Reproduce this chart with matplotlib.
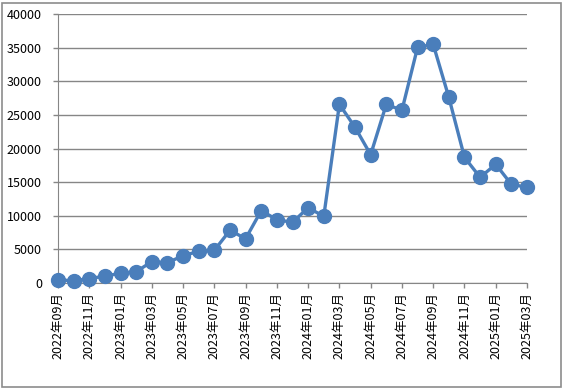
import matplotlib.pyplot as plt
from matplotlib.patches import Rectangle

plt.rcParams['font.family'] = ['Noto Sans CJK SC', 'DejaVu Sans']

months = ['2022年09月', '2022年10月', '2022年11月', '2022年12月', '2023年01月', '2023年02月',
          '2023年03月', '2023年04月', '2023年05月', '2023年06月', '2023年07月', '2023年08月',
          '2023年09月', '2023年10月', '2023年11月', '2023年12月', '2024年01月', '2024年02月',
          '2024年03月', '2024年04月', '2024年05月', '2024年06月', '2024年07月', '2024年08月',
          '2024年09月', '2024年10月', '2024年11月', '2024年12月', '2025年01月', '2025年02月',
          '2025年03月']
values = [450, 350, 640, 1040, 1440, 1690, 3170, 3020, 4060, 4710, 4860, 7830,
          6590, 10760, 9420, 9020, 11200, 9910, 26570, 23150, 19080, 26570, 25680, 35040,
          35490, 27610, 18690, 15710, 17650, 14670, 14230]
yticks = [0, 5000, 10000, 15000, 20000, 25000, 30000, 35000, 40000]

fig = plt.figure(figsize=(5.66, 3.91), dpi=100)
# chart frame like a spreadsheet chart object
fig.patches.append(Rectangle((2/566, 4/391), 559/566, 384/391, transform=fig.transFigure,
                             fill=False, edgecolor='#8c8c8c', lw=1.2))
ax = fig.add_axes([58/566, 108/391, 469/566, 269/391])

x = list(range(len(months)))
ax.plot(x, values, color='#4a7ebb', lw=2.4, marker='o', ms=10, zorder=3, clip_on=False)

ax.set_xlim(0, len(months) - 1)
ax.set_ylim(0, 40000)
ax.set_yticks(yticks)
ax.set_yticklabels([str(v) for v in yticks], fontsize=9)
ax.set_xticks(x[::2])
ax.set_xticklabels(months[::2], rotation=90, fontsize=9)
ax.grid(axis='y', color='#868686', lw=1)
ax.set_axisbelow(True)
for s in ['top', 'right']:
    ax.spines[s].set_visible(False)
for s in ['left', 'bottom']:
    ax.spines[s].set_color('#868686')
ax.tick_params(axis='both', length=3.6, color='#868686', width=1, pad=3)
ax.tick_params(axis='y', pad=8)

fig.savefig('out.png', dpi=100)
